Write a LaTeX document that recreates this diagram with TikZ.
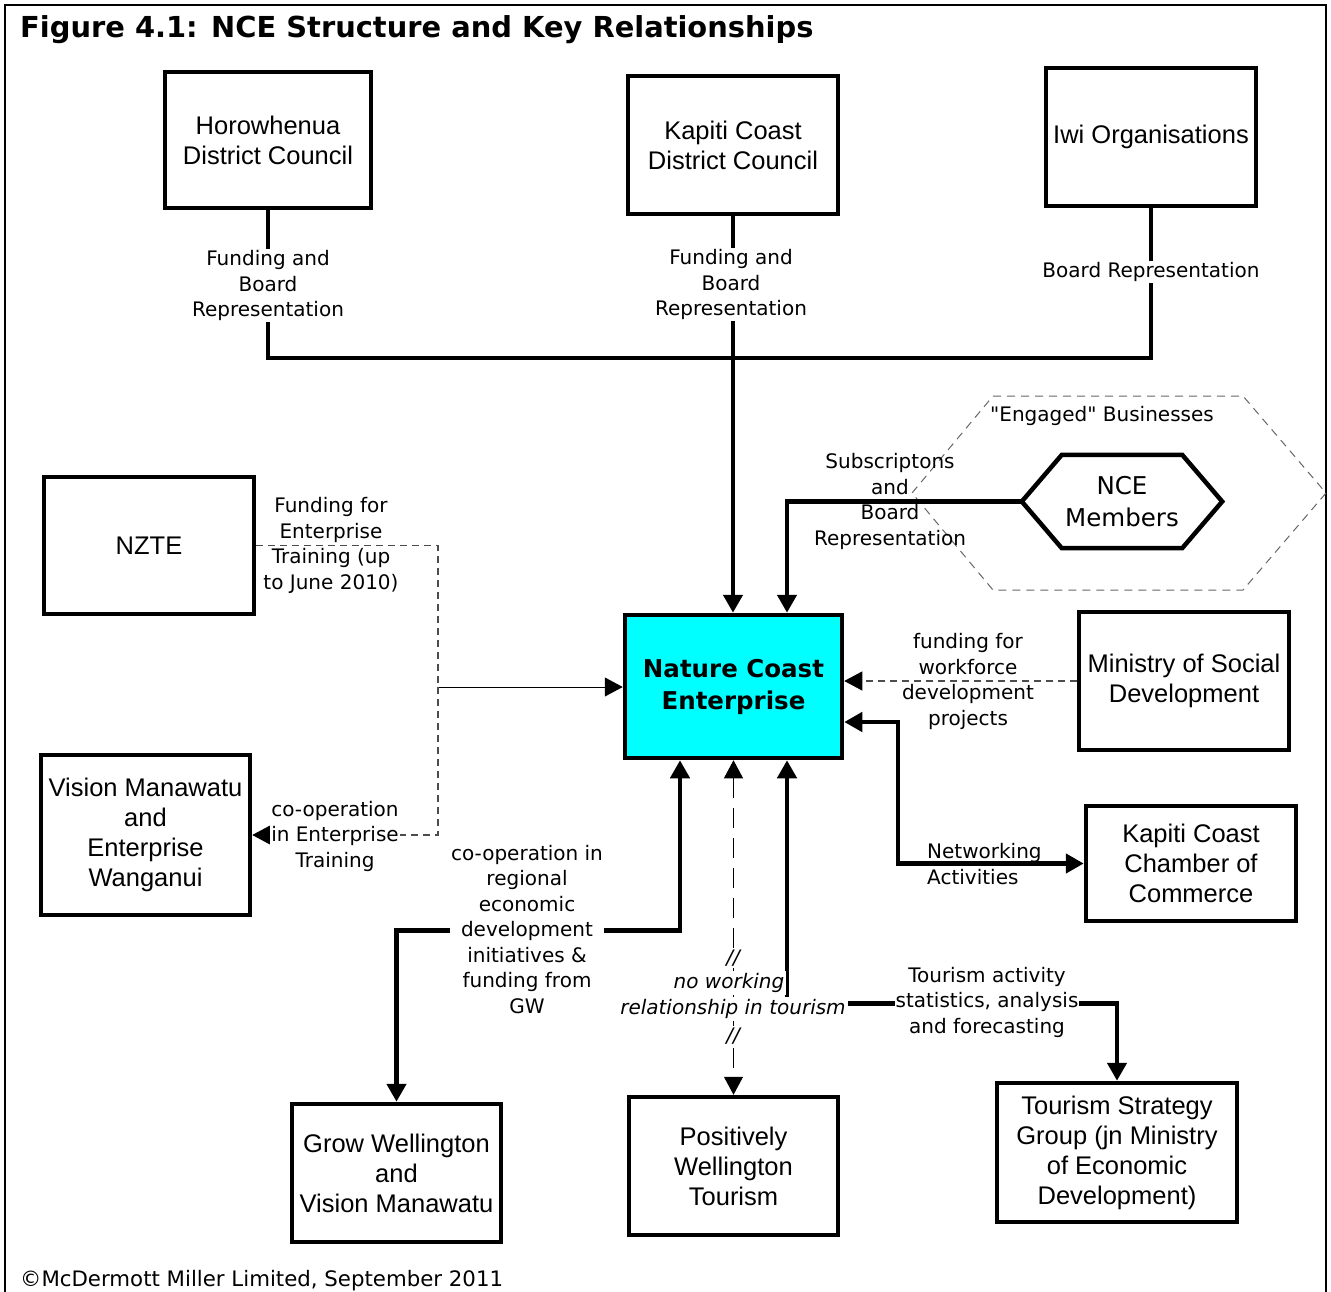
\documentclass[tikz,border=0pt]{standalone}
\usepackage{fontspec}
\setmainfont{DejaVu Sans}
\newfontfamily\arialf{Liberation Sans}
\newfontfamily\qfont{DejaVu Sans}[Ligatures=TeXOff]
\usetikzlibrary{arrows.meta,calc}
\definecolor{ncecyan}{RGB}{0,255,255}
\begin{document}
\begin{tikzpicture}[x=1pt,y=-1pt,
  >={Triangle[length=18pt,width=19pt,color=black]},
  box/.style={draw, line width=4.5pt, align=center, inner sep=0pt, font=\arialf\fontsize{25.5}{30}\selectfont},
  lbl/.style={align=center, inner sep=1pt, font=\fontsize{20}{25.5}\selectfont},
  wlbl/.style={lbl, fill=white},
  ilbl/.style={lbl, fill=white, inner sep=2pt, font=\itshape\fontsize{20}{25.5}\selectfont},
  conn/.style={line width=4.5pt},
  thindash/.style={line width=1.1pt, draw=black!70, dash pattern=on 7pt off 5pt},
  longdash/.style={line width=1.1pt, dash pattern=on 20pt off 10pt},
  hexdash/.style={line width=1pt, draw=black!60, dash pattern=on 8pt off 6pt},
]
\useasboundingbox (0,0) rectangle (1331,1291);
% frame
\draw[line width=2pt] (5,1300) -- (5,5) -- (1326,5) -- (1326,1300);
% title and footer
\node[anchor=base west, inner sep=0pt, font=\bfseries\fontsize{28.9}{34}\selectfont] (title) at (20,37) {Figure 4.1: NCE Structure and Key Relationships};
\node[anchor=base west, inner sep=0pt, font=\fontsize{21.3}{24}\selectfont] (copy) at (20,1286) {©McDermott Miller Limited, September 2011};

% engaged businesses dashed hexagon
\draw[hexdash] (993,396) -- (1243,396) -- (1326,493) -- (1243,590) -- (993,590) -- (912,493) -- cycle;
\node[lbl, font=\qfont\fontsize{20}{25.5}\selectfont] (eng) at (1102,416) {"Engaged" Businesses};

% boxes
\node[box, minimum width=206pt, minimum height=136pt] (H) at (268,140) {Horowhenua\\District Council};
\node[box, minimum width=210pt, minimum height=138pt] (K) at (733,145) {Kapiti Coast\\District Council};
\node[box, minimum width=210pt, minimum height=138pt] (I) at (1151,137) {Iwi Organisations};
\node[box, minimum width=210pt, minimum height=137pt] (NZ) at (149,545.5) {NZTE};
\node[box, minimum width=209pt, minimum height=160pt] (VM) at (145.5,835) {Vision Manawatu\\and\\Enterprise\\Wanganui};
\node[box, fill=ncecyan, minimum width=217pt, minimum height=143pt, font=\bfseries\fontsize{24.5}{32}\selectfont] (NCE) at (733.5,686.5) {Nature Coast\\Enterprise};
\node[box, minimum width=210pt, minimum height=138pt] (MSD) at (1184,681) {Ministry of Social\\Development};
\node[box, minimum width=210pt, minimum height=115pt] (KCC) at (1191,863.5) {Kapiti Coast\\Chamber of\\Commerce};
\node[box, minimum width=209pt, minimum height=138pt] (GW) at (396.5,1173) {Grow Wellington\\and\\Vision Manawatu};
\node[box, minimum width=209pt, minimum height=138pt] (PWT) at (733.5,1166) {Positively\\Wellington\\Tourism};
\node[box, minimum width=240pt, minimum height=139pt] (TSG) at (1117,1152.5) {Tourism Strategy\\Group (jn Ministry\\of Economic\\Development)};
% NCE members hexagon
\node[align=center, inner sep=0pt, minimum width=200pt, minimum height=93pt, font=\fontsize{24.5}{32}\selectfont] (mem) at (1122,501.5) {NCE\\Members};
\draw[line width=4.5pt] (mem.west) -- ($(mem.north west)+(40,0)$) -- ($(mem.north east)+(-40,0)$) -- (mem.east) -- ($(mem.south east)+(-40,0)$) -- ($(mem.south west)+(40,0)$) -- cycle;

% connectors: councils and iwi
\coordinate (jt) at (733,358);
\draw[conn] (H.south) |- (jt) -| (I.south);
\draw[conn,->] (K.south) -- (K.south |- NCE.north);
\node[wlbl] (lH) at (268,285.5) {Funding and\\Board\\Representation};
\node[wlbl] (lK) at (731,284.5) {Funding and\\Board\\Representation};
\node[wlbl] (lI) at (1151,272) {Board Representation};

% members
\draw[conn,->] (mem.west) -| ($(NCE.north)+(53.5,0)$);
\node[lbl] (lM) at (890,501.5) {Subscriptons\\and\\Board\\Representation};

% NZTE
\coordinate (jz) at (438,687);
\draw[thindash] (NZ.east) -| (jz);
\draw[line width=1pt,->] (jz) -- (jz -| NCE.west);
\draw[thindash,->] (jz) |- (VM.east);
\node[lbl] (lNZ) at (331,545.5) {Funding for\\Enterprise\\Training (up\\to June 2010)};
\node[wlbl] (lVM) at (335,836) {co-operation\\in Enterprise\\Training};

% MSD
\draw[thindash,->] (MSD.west) -- (MSD.west -| NCE.east);
\node[lbl] (lMSD) at (968,681.5) {funding for\\workforce\\development\\projects};

% KCC
\draw[conn,<->] ($(NCE.east)+(0,35.5)$) -| ($(KCC.west)+(-186,0)$) -- (KCC.west);
\node[lbl, align=left, anchor=west] (lKCC) at (926,864) {Networking\\Activities};

% Grow Wellington
\draw[conn,<->] ($(NCE.south)+(-53.5,0)$) -- ++(0,170) -| (GW.north);
\node[wlbl] (lGW) at (527,929.5) {co-operation in\\regional\\economic\\development\\initiatives \&\\funding from\\GW};

% PWT
\draw[longdash,<->] (NCE.south) -- (PWT.north);

% TSG
\draw[conn,<->] ($(NCE.south)+(53.5,0)$) -- ++(0,243) -| (TSG.north);
\node[wlbl] (lT) at (987,1002) {Tourism activity\\statistics, analysis\\and forecasting};

% no working relationship
\node[ilbl] (n1) at (733,958) {//};
\node[ilbl] (n2) at (729,983) {no working};
\node[ilbl] (n3) at (733,1009) {relationship in tourism};
\node[ilbl] (n4) at (733,1036) {//};
\end{tikzpicture}
\end{document}
